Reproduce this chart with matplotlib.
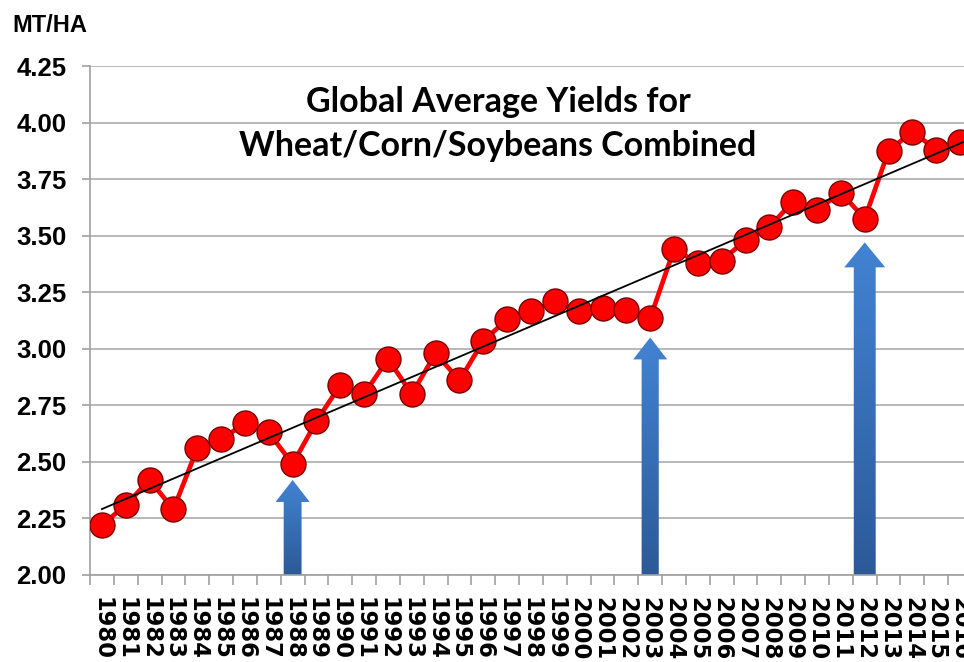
import numpy as np
import matplotlib
matplotlib.use("Agg")
import matplotlib.pyplot as plt
from matplotlib.patches import FancyArrow
from matplotlib.colors import LinearSegmentedColormap
from matplotlib.ticker import FixedLocator

years = [str(y) for y in range(1980, 2017)]
yields = [2.22, 2.31, 2.42, 2.29, 2.56, 2.60, 2.67, 2.63, 2.49, 2.68,
          2.84, 2.80, 2.955, 2.80, 2.98, 2.86, 3.035, 3.13, 3.165, 3.21,
          3.165, 3.18, 3.17, 3.135, 3.44, 3.38, 3.39, 3.48, 3.54, 3.65,
          3.615, 3.69, 3.575, 3.875, 3.96, 3.88, 3.915]
y_ticks = [2.00, 2.25, 2.50, 2.75, 3.00, 3.25, 3.50, 3.75, 4.00, 4.25]
arrow_years = ["1988", "2003", "2012"]
arrow_tips = [2.42, 3.05, 3.47]
arrow_sizes = [(0.75, 1.43, 0.097), (0.72, 1.43, 0.097), (0.92, 1.72, 0.11)]
title_lines = ["Global Average Yields for", "Wheat/Corn/Soybeans Combined"]
unit_label = "MT/HA"

fig = plt.figure(figsize=(9.64, 6.62), dpi=100)
ax = fig.add_axes([90/964, 1-575/662, 882/964, (575-66)/662])

x = np.arange(len(years))
ymin, ymax = 2.0, 4.25

# gridlines
ax.set_axisbelow(True)
ax.yaxis.grid(True, color="#ABABAB", linewidth=1.2, zorder=0)

# arrows with gradient
cmap = LinearSegmentedColormap.from_list("bl", ["#2C5A98", "#4283D3"])
grad = np.linspace(0, 1, 256).reshape(-1, 1)
for yr, tip, (sw, hw, hl) in zip(arrow_years, arrow_tips, arrow_sizes):
    xi = years.index(yr)
    arr = FancyArrow(xi, ymin, 0, tip - ymin, width=sw, head_width=hw,
                     head_length=hl, length_includes_head=True,
                     facecolor="none", edgecolor="none", zorder=2)
    ax.add_patch(arr)
    im = ax.imshow(grad, extent=[xi - hw/2, xi + hw/2, ymin, tip],
                   aspect="auto", cmap=cmap, origin="lower", zorder=2)
    im.set_clip_path(arr)

# data line
ax.plot(x, yields, color="#FF0000", linewidth=3.4, zorder=3,
        marker="o", markersize=18, markerfacecolor="#FF0000",
        markeredgecolor="#7A0000", markeredgewidth=1.0)

# linear trend
coef = np.polyfit(x, yields, 1)
xt = np.array([0, len(years)])
ax.plot(xt, np.polyval(coef, xt), color="black", linewidth=1.3, zorder=4)

ax.set_xlim(-0.5, len(years) - 0.5)
ax.set_ylim(ymin, ymax)

for s in ["top", "right"]:
    ax.spines[s].set_visible(False)
for s in ["left", "bottom"]:
    ax.spines[s].set_color("#A0A0A0")
    ax.spines[s].set_linewidth(1.2)

narrow = ["Liberation Sans Narrow", "Liberation Sans", "DejaVu Sans"]
ax.set_yticks(y_ticks)
ax.set_yticklabels([f"{v:.2f}" for v in y_ticks])
ax.tick_params(axis="y", length=6, width=1.2, color="#A0A0A0", pad=11)
for lab in ax.get_yticklabels():
    lab.set_fontfamily(narrow)
    lab.set_fontweight("bold")
    lab.set_fontsize(18.5)

ax.set_xticks(x)
ax.set_xticklabels(years, rotation=270, fontsize=16.3, fontweight="bold",
                   family="DejaVu Sans", va="top", ha="center")
ax.tick_params(axis="x", which="major", length=0, pad=16)
ax.xaxis.set_minor_locator(FixedLocator(np.arange(-0.5, len(years), 1)))
ax.tick_params(axis="x", which="minor", length=7, width=1.2, color="#A0A0A0")

fig.text(12/964, 1-25/662, unit_label, ha="left", va="center", fontsize=17,
         fontweight="bold", family=narrow)

fig.text(498/964, 1-102/662, title_lines[0], ha="center", va="center",
         fontsize=24.5, fontweight="bold", family=["Lato", "DejaVu Sans"])
fig.text(498/964, 1-146/662, title_lines[1], ha="center", va="center",
         fontsize=24.5, fontweight="bold", family=["Lato", "DejaVu Sans"])

fig.savefig("out.png", dpi=100)
